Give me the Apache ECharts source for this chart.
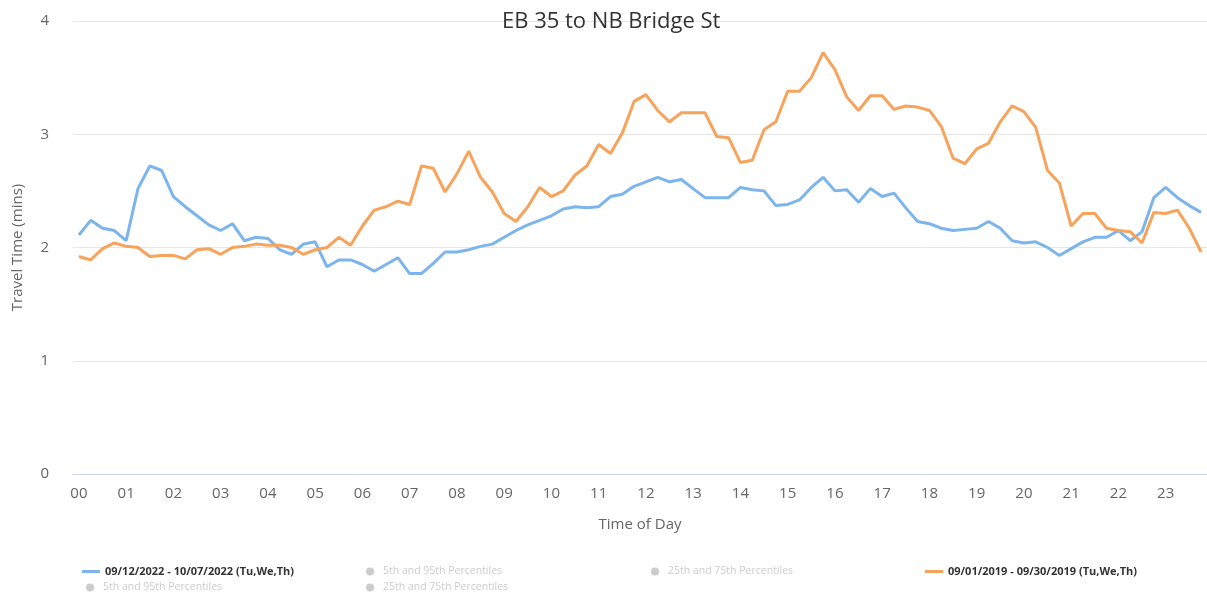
<!DOCTYPE html>
<html>
<head>
    <meta charset="utf-8"/>
    <title>EB 35 to NB Bridge St</title>
    <script src="https://cdn.jsdelivr.net/npm/echarts@6/dist/echarts.min.js"></script>
    <style>
        html, body { margin: 0; padding: 0; background: #fff; }
        #main { width: 1207px; height: 596px; }
    </style>
</head>
<body>
<div id="main"></div>
<script>
    // 15-minute time slots, 00:00 .. 23:45
    var times = [];
    for (var h = 0; h < 24; h++) {
        for (var m = 0; m < 60; m += 15) {
            times.push((h < 10 ? '0' : '') + h + ':' + (m < 10 ? '0' : '') + m);
        }
    }

    var name2022 = '09/12/2022 - 10/07/2022 (Tu,We,Th)';
    var name2019 = '09/01/2019 - 09/30/2019 (Tu,We,Th)';
    var pct95 = '5th and 95th Percentiles';
    var pct75 = '25th and 75th Percentiles';

    var travel2022 = [
        2.11, 2.24, 2.17, 2.15, 2.06, 2.52, 2.72, 2.68,
        2.45, 2.36, 2.28, 2.20, 2.15, 2.21, 2.06, 2.09,
        2.08, 1.98, 1.94, 2.03, 2.05, 1.83, 1.89, 1.89,
        1.85, 1.79, 1.85, 1.91, 1.77, 1.77, 1.86, 1.96,
        1.96, 1.98, 2.01, 2.03, 2.09, 2.15, 2.20, 2.24,
        2.28, 2.34, 2.36, 2.35, 2.36, 2.45, 2.47, 2.54,
        2.58, 2.62, 2.58, 2.60, 2.52, 2.44, 2.44, 2.44,
        2.53, 2.51, 2.50, 2.37, 2.38, 2.42, 2.53, 2.62,
        2.50, 2.51, 2.40, 2.52, 2.45, 2.48, 2.35, 2.23,
        2.21, 2.17, 2.15, 2.16, 2.17, 2.23, 2.17, 2.06,
        2.04, 2.05, 2.00, 1.93, 1.99, 2.05, 2.09, 2.09,
        2.15, 2.06, 2.14, 2.44, 2.53, 2.44, 2.37, 2.31
    ];

    var travel2019 = [
        1.92, 1.89, 1.99, 2.04, 2.01, 2.00, 1.92, 1.93,
        1.93, 1.90, 1.98, 1.99, 1.94, 2.00, 2.01, 2.03,
        2.02, 2.02, 2.00, 1.94, 1.98, 2.00, 2.09, 2.02,
        2.19, 2.33, 2.36, 2.41, 2.38, 2.72, 2.70, 2.49,
        2.65, 2.85, 2.62, 2.49, 2.30, 2.23, 2.36, 2.53,
        2.45, 2.50, 2.64, 2.72, 2.91, 2.83, 3.01, 3.29,
        3.35, 3.21, 3.11, 3.19, 3.19, 3.19, 2.98, 2.97,
        2.75, 2.77, 3.04, 3.11, 3.38, 3.38, 3.50, 3.72,
        3.57, 3.33, 3.21, 3.34, 3.34, 3.22, 3.25, 3.24,
        3.21, 3.07, 2.79, 2.74, 2.87, 2.92, 3.11, 3.25,
        3.20, 3.06, 2.68, 2.57, 2.19, 2.30, 2.30, 2.17,
        2.15, 2.14, 2.04, 2.31, 2.30, 2.33, 2.17, 1.96
    ];

    var fontFamily = '"Open Sans", "DejaVu Sans", sans-serif';

    function lineLegend(name, left) {
        return {
            data: [name], left: left, top: 566, padding: 0,
            icon: 'rect', itemWidth: 18, itemHeight: 3,
            textStyle: {fontSize: 11, color: '#333', fontWeight: 'bold', fontFamily: fontFamily},
            selectedMode: false
        };
    }

    function dotLegend(name, left, top) {
        return {
            data: [name], left: left, top: top, padding: 0,
            icon: 'circle', itemWidth: 16, itemHeight: 8,
            inactiveColor: '#cccccc',
            textStyle: {fontSize: 10.5, fontFamily: fontFamily},
            selectedMode: false
        };
    }

    var chart = echarts.init(document.getElementById('main'));
    var option = {
        animation: false,
        backgroundColor: '#fff',
        title: {
            text: 'EB 35 to NB Bridge St',
            left: 497,
            top: 6,
            textStyle: {fontSize: 22, fontWeight: 'normal', color: '#333', fontFamily: fontFamily}
        },
        legend: [
            lineLegend(name2022, 82),
            dotLegend(pct95, 86, 582),
            dotLegend(pct95 + ' ', 366, 566),
            dotLegend(pct75 + ' ', 366, 582),
            dotLegend(pct75, 651, 566),
            lineLegend(name2019, 925)
        ],
        grid: {left: 73, right: 0, top: 21, bottom: 122},
        xAxis: {
            type: 'category',
            data: times,
            boundaryGap: true,
            name: 'Time of Day',
            nameLocation: 'middle',
            nameGap: 43,
            nameTextStyle: {fontSize: 15, color: '#666', fontFamily: fontFamily},
            axisLine: {lineStyle: {color: '#ccd6eb'}},
            axisTick: {alignWithLabel: true, interval: 3, length: 10, lineStyle: {color: '#ccd6eb'}},
            axisLabel: {
                interval: 3,
                margin: 12,
                fontSize: 15,
                color: '#666',
                fontFamily: fontFamily,
                formatter: function (v) { return v.slice(0, 2); }
            },
            splitLine: {show: false}
        },
        yAxis: {
            type: 'value',
            min: 0,
            max: 4,
            interval: 1,
            name: 'Travel Time (mins)',
            nameLocation: 'middle',
            nameGap: 48,
            nameTextStyle: {fontSize: 15, color: '#666', fontFamily: fontFamily},
            axisLine: {show: false},
            axisTick: {show: false},
            axisLabel: {fontSize: 15, color: '#666', margin: 24, fontFamily: fontFamily},
            splitLine: {lineStyle: {color: '#e6e6e6'}}
        },
        series: [
            {
                name: name2022, type: 'line', data: travel2022,
                color: '#7cb5ec', showSymbol: false, lineStyle: {width: 3}
            },
            {name: pct95, type: 'line', data: [], color: '#7cb5ec'},
            {name: pct75, type: 'line', data: [], color: '#7cb5ec'},
            {
                name: name2019, type: 'line', data: travel2019,
                color: '#f7a35c', showSymbol: false, lineStyle: {width: 3}
            },
            {name: pct95 + ' ', type: 'line', data: [], color: '#f7a35c'},
            {name: pct75 + ' ', type: 'line', data: [], color: '#f7a35c'}
        ]
    };
    option.legend.forEach(function (l) {
        l.selected = {};
        l.selected[pct95] = false;
        l.selected[pct75] = false;
        l.selected[pct95 + ' '] = false;
        l.selected[pct75 + ' '] = false;
    });
    chart.setOption(option);
</script>
</body>
</html>
